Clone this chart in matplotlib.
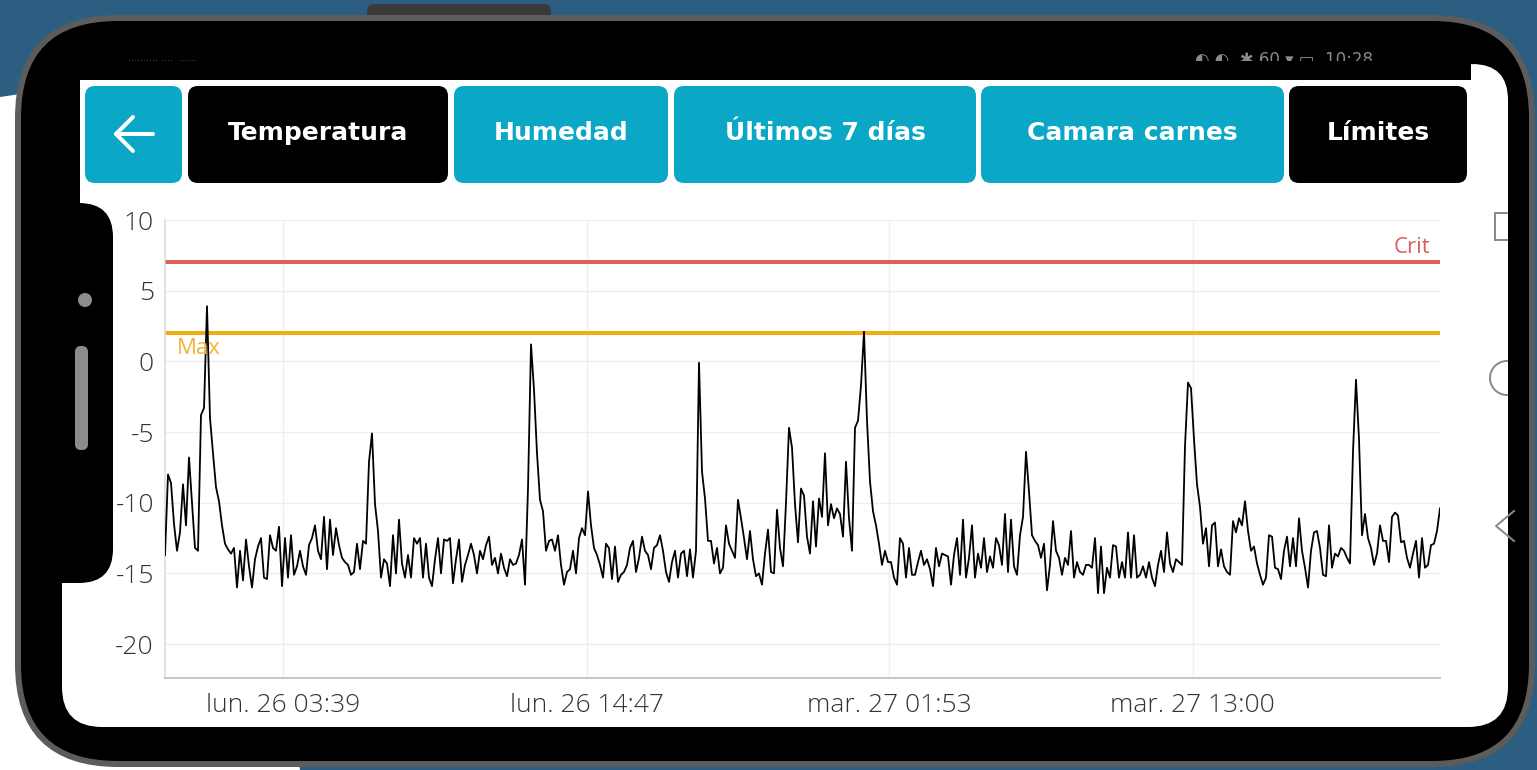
import matplotlib
matplotlib.use('Agg')
import matplotlib.pyplot as plt
import numpy as np
import pandas as pd
from matplotlib.patches import FancyBboxPatch, Rectangle, Circle, Polygon

# ---------------- data ----------------
start_time = pd.Timestamp('2018-03-25 23:19:15')
step_seconds = 396

temps_seg1 = [
    -13.7, -8.0, -8.6, -11.5, -13.4, -12.1, -8.7, -11.6, -6.8, -10.0,
    -13.2, -13.4, -3.8, -3.3, 3.9, -4.0, -6.5, -8.9, -9.9, -11.6,
    -12.9, -13.3, -13.6, -13.2, -16.0, -13.4, -15.5, -12.6, -14.5, -16.0,
    -14.0, -13.1, -12.5, -15.3, -15.4, -12.3, -13.2, -13.4, -11.7, -15.9,
    -12.5, -15.3, -12.3, -15.1, -14.5, -13.4, -14.5, -15.1, -13.0, -12.5,
    -11.6, -13.4, -14.0, -11.0, -14.7, -11.2, -13.7, -11.8, -13.0, -13.9,
    -14.2, -14.4, -15.1, -14.9, -12.9, -14.7, -12.7, -12.9, -7.1, -5.1,
    -10.1, -12.0, -15.3, -14.0, -14.3, -15.9, -12.3, -15.0, -11.2, -14.3,
    -15.3, -13.7, -15.3, -12.5, -12.9]
temps_seg2 = [
    -12.5, -15.3, -12.9, -15.3, -15.9, -14.0, -12.5, -15.0, -12.6, -12.7,
    -12.5, -15.7, -14.0, -12.6, -15.6, -14.4, -13.7, -12.9, -13.7, -15.0,
    -13.4, -14.0, -13.0, -12.4, -14.4, -13.9, -15.0, -13.6, -14.6, -15.2,
    -14.0, -14.4, -14.3, -13.7, -12.6, -15.8, -9.0, 1.2, -2.0, -6.5,
    -9.8, -10.6, -13.4, -12.7, -12.6, -13.4, -12.3, -14.4, -15.8, -14.9,
    -14.7, -13.4, -15.0, -12.5, -11.8, -12.3, -9.2, -11.6, -13.2, -13.7,
    -14.4, -15.3, -12.9, -13.2, -15.4, -13.1, -15.6, -15.1, -14.9, -14.4,
    -13.2, -12.7, -14.9, -13.9, -12.4, -13.4, -13.7, -14.7, -13.2, -13.0,
    -12.3, -13.4, -14.9, -15.6, -14.2, -13.4]
temps_seg3 = [
    -15.3, -13.6, -13.4, -15.2, -13.3, -15.3, -13.4, -0.1, -7.8, -9.7,
    -12.7, -12.7, -14.3, -13.2, -15.0, -14.6, -11.6, -12.9, -13.4, -13.9,
    -9.8, -11.1, -12.5, -14.0, -12.0, -14.0, -15.2, -15.0, -15.8, -13.6,
    -11.9, -14.9, -15.0, -10.5, -13.2, -14.5, -10.0, -4.7, -6.1, -10.1,
    -12.8, -9.0, -9.5, -12.4, -13.6, -9.9, -13.1, -9.7, -11.0, -6.5,
    -11.6, -10.1, -11.1, -10.4, -10.8, -12.4, -7.1, -11.1, -13.4, -4.7,
    -4.2, -1.7, 2.1, -4.2, -8.5, -10.6, -11.6, -12.9, -14.4, -13.4,
    -14.2, -14.2, -15.3, -15.8, -12.5, -12.9, -15.3, -13.2, -15.1, -15.1,
    -14.2, -13.4, -14.4, -14.0, -14.7]
temps_seg4 = [
    -15.9, -13.2, -14.5, -13.6, -13.7, -13.8, -15.8, -13.7, -12.5, -15.1,
    -11.2, -15.3, -13.9, -11.6, -15.3, -13.6, -14.6, -12.5, -14.9, -13.8,
    -14.6, -12.5, -13.0, -14.4, -10.8, -14.9, -11.2, -14.5, -15.1, -12.3,
    -11.0, -6.4, -9.2, -12.3, -12.7, -13.0, -13.9, -12.9, -16.2, -14.4,
    -11.3, -13.4, -13.9, -15.1, -13.9, -14.4, -12.0, -15.3, -14.2, -14.9,
    -15.1, -14.4, -14.4, -14.6, -12.5, -16.4, -13.1, -16.4, -14.6, -15.3,
    -13.0, -13.1, -15.3, -14.2, -15.3, -12.1, -15.3, -12.3, -15.3, -15.1,
    -14.5, -15.3, -14.2, -15.3, -15.9, -14.4, -13.4, -14.9, -12.1, -14.3,
    -14.9, -14.0, -14.2, -14.4, -6.0]
temps_seg5 = [
    -1.5, -1.9, -5.5, -8.7, -10.3, -12.9, -11.8, -14.5, -11.6, -11.4,
    -14.5, -13.3, -14.5, -14.9, -15.1, -11.3, -12.1, -11.1, -11.6, -9.9,
    -12.0, -13.4, -13.1, -14.3, -15.1, -15.8, -15.3, -12.3, -12.4, -14.6,
    -14.7, -15.4, -13.4, -12.4, -14.5, -12.5, -14.5, -11.1, -13.4, -14.6,
    -16.0, -13.4, -12.1, -12.0, -13.2, -15.1, -15.2, -11.6, -14.6, -13.6,
    -13.8, -13.2, -13.4, -13.9, -14.3, -6.4, -1.3, -5.5, -12.3, -10.8,
    -12.5, -13.2, -14.4, -13.6, -11.6, -12.7, -12.7, -14.2, -11.0, -10.7,
    -10.9, -12.8, -12.7, -13.9, -14.6, -13.6, -12.7, -15.3, -12.5, -14.6,
    -14.4, -13.0, -12.9, -12.0, -10.4]

crit_limit = 7
max_limit = 2

y_ticks = [-20, -15, -10, -5, 0, 5, 10]
y_tick_labels = ['-20', '-15', '-10', '-5', '0', '5', '10']
x_tick_times = ['2018-03-26 03:39', '2018-03-26 14:47', '2018-03-27 01:53', '2018-03-27 13:00']
x_tick_labels = ['lun. 26 03:39', 'lun. 26 14:47', 'mar. 27 01:53', 'mar. 27 13:00']

button_labels = ['Temperatura', 'Humedad', 'Últimos 7 días', 'Camara carnes', 'Límites']

temps = np.array(temps_seg1 + temps_seg2 + temps_seg3 + temps_seg4 + temps_seg5)
times = pd.date_range(start_time, periods=len(temps), freq=f'{step_seconds}s')

# ---------------- figure / decoration ----------------
W, H = 1537, 770
PX = 72 / 100.0
plt.rcParams['font.family'] = ['DejaVu Sans']
TICK_FONT = {'family': ['Open Sans', 'DejaVu Sans'], 'weight': 'light'}

fig = plt.figure(figsize=(W / 100, H / 100), dpi=100)
fig.patch.set_facecolor('#2b5e80')
bg = fig.add_axes([0, 0, 1, 1])
bg.set_xlim(0, W)
bg.set_ylim(H, 0)
bg.axis('off')


def rbox(x0, y0, x1, y1, r, fc, ec='none', lw=0, z=1):
    p = FancyBboxPatch((x0, y0), x1 - x0, y1 - y0,
                       boxstyle=f'round,pad=0,rounding_size={r}',
                       fc=fc, ec=ec, lw=lw, zorder=z)
    bg.add_patch(p)
    return p


# white backdrop at the lower left behind the phone
bg.add_patch(Polygon([(0, 97), (170, 72), (300, H), (0, H)], closed=True,
                     fc='white', ec='none', zorder=0.5))
# speaker notch
rbox(367, 4, 551, 28, 7, '#3a3a3a', z=0.8)
# phone body
rbox(18, 18, 1532, 764, 100, 'black', ec='#5c5c5c', lw=6 * PX, z=1)
# screen
screen = rbox(62, 80, 1508, 727, 40, 'white', z=2)
bg.add_patch(Rectangle((80, 80), 1391, 160, fc='white', ec='none', zorder=2.1))
rbox(1440, 64, 1508, 220, 36, 'white', z=2.1)
bg.add_patch(Rectangle((1380, 56), 91, 24, fc='black', ec='none', zorder=2.2))
bg.add_patch(Rectangle((50, 76), 30, 140, fc='black', ec='none', zorder=2.2))
# left camera bezel
rbox(24, 203, 113, 583, 34, 'black', z=2.3)
bg.add_patch(Circle((85, 300), 7, fc='#8c8c8c', ec='none', zorder=2.4))
rbox(75, 346, 88, 450, 6, '#8c8c8c', z=2.4)

# status bar
bg.text(128, 58, '.......... ....  ......', fontsize=7, color='#555555',
        va='center', ha='left', zorder=2.5)
bg.text(1195, 60, '\u25d0 \u25d0  \u2731 60 \u25be \u25ad  10:28', fontsize=12,
        color='#8a8a8a', va='center', ha='left', zorder=2.5)
bg.add_patch(Rectangle((1185, 61), 260, 19, fc='black', ec='none', zorder=2.6))

# buttons
cyan = '#0aa8c6'
btn_x = [(188, 448), (454, 668), (674, 976), (981, 1284), (1289, 1467)]
btn_fc = ['black', cyan, cyan, cyan, 'black']
rbox(85, 86, 182, 183, 10, cyan, z=3)
for (x0, x1), fc, lab in zip(btn_x, btn_fc, button_labels):
    rbox(x0, 86, x1, 183, 10, fc, z=3)
    bg.text((x0 + x1) / 2, 133, lab, ha='center', va='center', color='white',
            fontsize=18, fontweight='bold', zorder=4)
# back arrow
bg.plot([116, 153], [134, 134], color='white', lw=4 * PX, solid_capstyle='round', zorder=4)
bg.plot([133, 116, 133], [117, 134, 151], color='white', lw=4 * PX,
        solid_capstyle='round', solid_joinstyle='round', zorder=4)

# navigation icons on the right (clipped by the screen edge)
nav_col = '#8a8a8a'
sq = Rectangle((1495, 213), 24, 27, fc='none', ec=nav_col, lw=2 * PX, zorder=3)
bg.add_patch(sq)
sq.set_clip_path(screen)
cc = Circle((1507, 378), 17, fc='none', ec=nav_col, lw=2 * PX, zorder=3)
bg.add_patch(cc)
cc.set_clip_path(screen)
bg.plot([1514, 1496, 1514], [511, 526, 541], color=nav_col, lw=2 * PX, zorder=3)

# ---------------- chart ----------------
ax = fig.add_axes([165 / W, (H - 678) / H, (1440 - 165) / W, (678 - 220) / H])
ax.set_facecolor('none')
ax.set_zorder(5)

ax.axhline(crit_limit, color='#dc5f5a', lw=4 * PX, zorder=2)
ax.axhline(max_limit, color='#f0ae12', lw=4 * PX, zorder=2)
ax.plot(times, temps, color='black', lw=1.3, zorder=3)

ax.annotate('Crit', xy=(1, crit_limit), xycoords=('axes fraction', 'data'),
            xytext=(-10, 4), textcoords='offset pixels', ha='right', va='bottom',
            color='#d9605a', fontsize=16, **{'family': TICK_FONT['family']})
ax.annotate('Max', xy=(0, max_limit), xycoords=('axes fraction', 'data'),
            xytext=(12, -5), textcoords='offset pixels', ha='left', va='top',
            color='#f2b233', fontsize=16, **{'family': TICK_FONT['family']})

ax.set_xlim(times[0], times[-1])
ax.set_ylim(-22.4, 10)
ax.set_yticks(y_ticks)
ax.set_yticklabels(y_tick_labels, fontdict=TICK_FONT)
ax.set_xticks(pd.to_datetime(x_tick_times))
ax.set_xticklabels(x_tick_labels, fontdict=TICK_FONT)
ax.tick_params(length=0, labelsize=19, labelcolor='#333333')
ax.tick_params(axis='y', pad=8)
ax.tick_params(axis='x', pad=11)
ax.grid(True, color='#efefef', lw=1.0)
ax.set_axisbelow(True)
for s in ['top', 'right']:
    ax.spines[s].set_visible(False)
ax.spines['left'].set_color('#d9d9d9')
ax.spines['left'].set_linewidth(1.5 * PX)
ax.spines['bottom'].set_color('#c8c8c8')
ax.spines['bottom'].set_linewidth(2 * PX)

fig.savefig('out.png', dpi=100, facecolor=fig.get_facecolor())
